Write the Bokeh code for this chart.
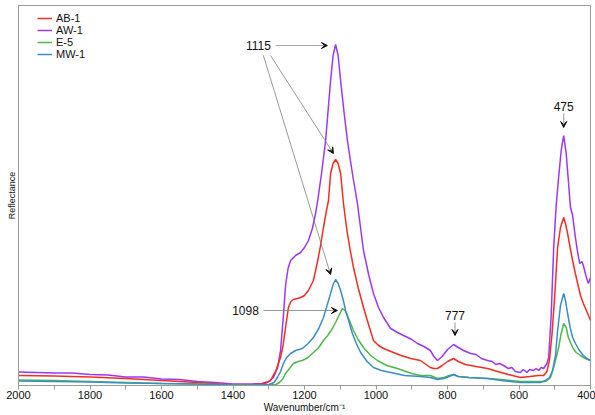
from bokeh.plotting import figure
from bokeh.models import Range1d, Label, Arrow, VeeHead, FixedTicker, LegendItem
from bokeh.embed import file_html
from bokeh.resources import INLINE

# ---------------- data ----------------
series_names = ["AB-1", "AW-1", "E-5", "MW-1"]
series_colors = ["#f32d21", "#9b37f6", "#4fb84a", "#3b8dca"]

wn_aw = [2000, 1950, 1900, 1850, 1800, 1750, 1700, 1650, 1600, 1550, 1500, 1450, 1400,
         1350, 1320, 1300, 1287, 1275, 1267, 1260, 1253, 1246, 1239, 1225, 1211, 1200,
         1189, 1178, 1169, 1163, 1152, 1141, 1134, 1127, 1120, 1113, 1106, 1099, 1090,
         1080, 1066, 1052, 1035, 1020, 1007, 993, 979, 959, 940, 923, 900, 884, 866, 848,
         838, 828, 815, 800, 783, 770, 755, 735, 720, 705, 688, 675, 665, 655, 643, 630,
         620, 610, 596, 588, 578, 570, 560, 552, 545, 538, 531, 522, 517, 510, 503, 496,
         490, 482, 475, 468, 462, 456, 450, 443, 436, 430, 424, 420, 413, 406, 400]
aw_1 = [13.5, 13, 12.5, 12.5, 11, 10.5, 8.5, 8.5, 6.5, 6, 4, 3, 1.5,
        1.5, 2, 4, 8, 18, 35, 65, 100, 117, 125, 130, 133, 138,
        145, 157, 172, 185, 213, 245, 275, 305, 330, 341, 330, 305, 275,
        245, 212, 182, 135, 110, 92, 78, 68, 57, 53, 50, 46, 42, 39, 35,
        29, 25, 29, 36, 41, 38, 35, 32, 31, 27, 25, 24, 21, 22, 20, 17,
        18, 14, 13, 16, 13, 16, 15, 17, 15, 18, 17, 22, 28, 70, 138, 180,
        205, 235, 250, 232, 205, 178, 170, 150, 133, 122, 124, 120, 110, 102, 108]

wn_ab = [2000, 1900, 1800, 1700, 1600, 1500, 1400, 1350, 1310, 1295, 1280, 1267, 1260,
         1253, 1245, 1238, 1231, 1220, 1211, 1200, 1189, 1175, 1163, 1155, 1147, 1140,
         1133, 1127, 1120, 1113, 1106, 1099, 1091, 1085, 1080, 1072, 1063, 1050, 1035,
         1020, 1007, 993, 979, 965, 951, 930, 903, 876, 848, 838, 828, 815, 800, 783,
         770, 750, 720, 688, 660, 630, 596, 570, 545, 531, 522, 515, 508, 500, 492, 484,
         475, 470, 464, 457, 450, 443, 436, 428, 420, 408, 400]
ab_1 = [10, 9.5, 8.5, 7, 5, 3, 0.5, 0.5, 2, 5, 15, 28, 40,
        58, 78, 84, 86, 87, 88, 90, 95, 105, 125, 140, 158, 172,
        185, 212, 222, 226, 222, 212, 182, 165, 152, 135, 118, 98, 78,
        60, 45, 40, 37, 35, 33, 30, 27, 25, 18, 17, 17, 20, 24, 27,
        24, 21, 19, 17, 14, 11, 8, 9, 10, 10, 14, 25, 50, 90, 138, 158,
        168, 162, 152, 138, 125, 113, 102, 90, 82, 72, 65]

wn_e5 = [2000, 1900, 1800, 1700, 1600, 1500, 1400, 1300, 1280, 1270, 1260, 1253, 1242,
         1231, 1218, 1206, 1190, 1175, 1160, 1147, 1135, 1122, 1113, 1105, 1098, 1094,
         1087, 1080, 1072, 1063, 1050, 1035, 1015, 996, 970, 940, 900, 876, 848, 828,
         810, 795, 783, 770, 740, 688, 650, 596, 560, 540, 525, 518, 512, 503, 496, 489,
         482, 475, 468, 462, 455, 448, 440, 428, 415, 400]
e_5 = [5.5, 5, 4, 3, 2, 1.5, 0.5, 0.5, 1, 3, 7, 12, 17,
       22, 24, 25, 28, 33, 38, 45, 50, 57, 63, 69, 74, 77,
       75, 70, 63, 55, 46, 38, 30, 25, 20, 17, 12, 10, 10, 7,
       8, 10, 11, 9, 8, 7, 6, 4, 4, 4, 4, 6, 8, 18, 28, 38,
       52, 62, 58, 48, 42, 37, 33, 30, 27, 25]

wn_mw = [2000, 1900, 1800, 1700, 1600, 1500, 1400, 1350, 1300, 1285, 1276, 1267, 1259,
         1250, 1239, 1225, 1206, 1190, 1175, 1160, 1147, 1137, 1127, 1120, 1113, 1106,
         1099, 1092, 1085, 1075, 1066, 1055, 1043, 1025, 1007, 985, 959, 920, 876, 848,
         828, 810, 795, 783, 770, 740, 688, 650, 596, 560, 540, 526, 515, 506, 498, 492,
         484, 475, 470, 464, 457, 450, 442, 433, 420, 410, 400]
mw_1 = [4.5, 4, 3.5, 2.5, 2, 1.5, 0.5, 0.3, 1, 3, 8, 14, 22,
        28, 32, 35, 37, 42, 48, 57, 68, 80, 92, 101, 106, 102,
        95, 86, 75, 63, 52, 42, 33, 24, 18, 15, 13, 10, 9, 8,
        6, 7, 9, 11, 9, 8, 7, 5, 3, 3, 3, 5, 8, 15, 30, 55,
        80, 92, 85, 72, 58, 48, 42, 36, 30, 27, 25]

x_ticks = [2000, 1800, 1600, 1400, 1200, 1000, 800, 600, 400]
x_minor = [1900, 1700, 1500, 1300, 1100, 900, 700, 500]

# ---------------- figure ----------------
FONT = "Liberation Sans"
AX = "#9a9a9a"

p = figure(width=595, height=415, output_backend="svg", toolbar_location=None,
           x_range=Range1d(2000, 400), y_range=Range1d(0, 380),
           min_border_left=18, min_border_right=5, min_border_top=5, min_border_bottom=0)
p.grid.visible = False
p.outline_line_color = AX
p.background_fill_color = "white"
p.border_fill_color = "white"

xa = p.xaxis[0]
xa.ticker = FixedTicker(ticks=x_ticks, minor_ticks=x_minor)
xa.axis_line_color = AX
xa.major_tick_line_color = AX
xa.minor_tick_line_color = AX
xa.major_tick_in = 0
xa.major_tick_out = 4
xa.minor_tick_in = 0
xa.minor_tick_out = 4
xa.major_label_text_font = FONT
xa.major_label_text_font_size = "11px"
xa.major_label_text_color = "#111111"
xa.major_label_standoff = 1
xa.axis_label = "Wavenumber/cm\u207b\u00b9"
xa.axis_label_text_font = FONT
xa.axis_label_text_font_size = "10px"
xa.axis_label_text_font_style = "normal"
xa.axis_label_text_color = "#111111"
xa.axis_label_standoff = 0

ya = p.yaxis[0]
ya.ticker = FixedTicker(ticks=[])
ya.axis_line_color = AX
ya.major_tick_line_color = None
ya.minor_tick_line_color = None
ya.axis_label = "Reflectance"
ya.axis_label_text_font = FONT
ya.axis_label_text_font_size = "9px"
ya.axis_label_text_font_style = "normal"
ya.axis_label_text_color = "#111111"
ya.axis_label_standoff = 2

xs = [wn_ab, wn_aw, wn_e5, wn_mw]
ys = [ab_1, aw_1, e_5, mw_1]
order = [1, 0, 2, 3]
renderers = {}
for i in order:
    renderers[i] = p.line(xs[i], ys[i], line_color=series_colors[i], line_width=1.5,
                          legend_label=series_names[i])

lg = p.legend[0]
lg.items = [LegendItem(label=series_names[i], renderers=[renderers[i]]) for i in range(4)]
lg.location = (19, 325)
lg.margin = 0
lg.padding = 0
lg.spacing = 0
lg.label_height = 12
lg.glyph_height = 12
lg.glyph_width = 15
lg.label_standoff = 4
lg.label_text_font = FONT
lg.label_text_font_size = "11px"
lg.label_text_color = "#111111"
lg.border_line_color = None
lg.background_fill_alpha = 0

# ---------------- annotations ----------------
LC = "#a8a8a8"
DC = "#808080"

def head():
    return VeeHead(size=6, fill_color="#111111", line_color="#111111", line_width=1)

def label(x, y, t):
    p.add_layout(Label(x=x, y=y, text=t, text_align="center", text_baseline="middle",
                       text_font=FONT, text_font_size="12px", text_color="#111111"))

label(1329, 340, "1115")
p.add_layout(Arrow(end=head(), x_start=1281, y_start=340, x_end=1136, y_end=340,
                   line_color=LC, line_width=1.2))
p.add_layout(Arrow(end=head(), x_start=1295, y_start=330, x_end=1119, y_end=232,
                   line_color=DC, line_width=0.8))
p.add_layout(Arrow(end=head(), x_start=1315, y_start=330, x_end=1127, y_end=111,
                   line_color=DC, line_width=0.8))

label(1365, 75, "1098")
p.add_layout(Arrow(end=head(), x_start=1315, y_start=75, x_end=1108, y_end=75,
                   line_color=DC, line_width=0.8))

label(779, 70, "777")
p.add_layout(Arrow(end=head(), x_start=779, y_start=63, x_end=779, y_end=50,
                   line_color=LC, line_width=1.2))

label(475, 279, "475")
p.add_layout(Arrow(end=head(), x_start=475, y_start=272, x_end=475, y_end=258,
                   line_color=LC, line_width=1.2))

open("out.html", "w").write(file_html(p, INLINE))
